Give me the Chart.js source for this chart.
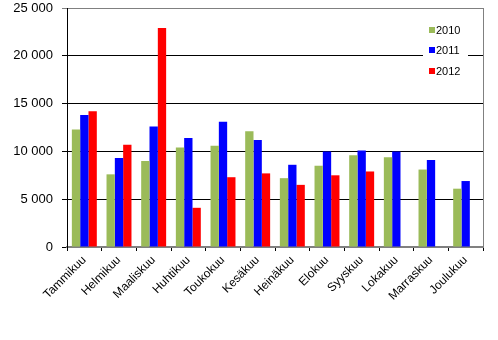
<!DOCTYPE html>
<html>
<head>
<meta charset="utf-8">
<script src="https://cdn.jsdelivr.net/npm/chart.js@4.4.0/dist/chart.umd.min.js"></script>
<style>
  html, body { margin: 0; padding: 0; background: #fff; }
</style>
</head>
<body>
<canvas id="chart" width="498" height="340"></canvas>
<script>
const months = ["Tammikuu", "Helmikuu", "Maaliskuu", "Huhtikuu", "Toukokuu", "Kesäkuu",
                "Heinäkuu", "Elokuu", "Syyskuu", "Lokakuu", "Marraskuu", "Joulukuu"];
const years = ["2010", "2011", "2012"];
const values2010 = [12300, 7600, 9000, 10400, 10600, 12100, 7200, 8500, 9600, 9400, 8100, 6100];
const values2011 = [13800, 9300, 12600, 11400, 13100, 11200, 8600, 10000, 10100, 10000, 9100, 6900];
const values2012 = [14200, 10700, 22900, 4100, 7300, 7700, 6500, 7500, 7900, null, null, null];
const yTicks = [0, 5000, 10000, 15000, 20000, 25000];
const colors = ["#9bbb59", "#0000ff", "#ff0000"];

const FONT = "'Liberation Sans', Arial, sans-serif";

// frame on top/right + legend box drawn inside the plot area
const frameAndLegend = {
    id: "frameAndLegend",
    afterDraw(chart) {
        const ctx = chart.ctx;
        const a = chart.chartArea;
        ctx.save();
        ctx.strokeStyle = "#808080";
        ctx.lineWidth = 1;
        ctx.beginPath();
        ctx.moveTo(a.right + 0.5, a.top);
        ctx.lineTo(a.right + 0.5, a.bottom);
        ctx.stroke();

        const x0 = a.right - 60;
        ctx.fillStyle = "#fff";
        ctx.fillRect(x0, a.top + 10, 45, 66);
        ctx.font = "11px " + FONT;
        ctx.textBaseline = "middle";
        const rows = [22, 42, 63];
        chart.data.datasets.forEach(function (ds, i) {
            const y = a.top + rows[i];
            ctx.fillStyle = ds.backgroundColor;
            ctx.fillRect(x0 + 6, y - 3, 6, 6);
            ctx.fillStyle = "#000";
            ctx.fillText(ds.label, x0 + 13, y + 0.5);
        });
        ctx.restore();
    }
};

const seriesValues = [values2010, values2011, values2012];

new Chart(document.getElementById("chart").getContext("2d"), {
    type: "bar",
    data: {
        labels: months,
        datasets: years.map(function (y, i) {
            return {
                label: y,
                data: seriesValues[i],
                backgroundColor: colors[i],
                borderWidth: 0,
                categoryPercentage: 0.72,
                barPercentage: 1.0
            };
        })
    },
    options: {
        responsive: false,
        animation: false,
        layout: { padding: { top: 8, right: 15, left: 0, bottom: 0 } },
        scales: {
            x: {
                afterFit: function (axis) { axis.height = 93; },
                grid: {
                    offset: true,
                    drawOnChartArea: false,
                    drawTicks: true,
                    tickLength: 4,
                    color: "#000"
                },
                border: { color: "#808080", width: 2 },
                ticks: {
                    autoSkip: false,
                    maxRotation: 45,
                    minRotation: 45,
                    padding: 2,
                    color: "#000",
                    font: { family: FONT, size: 12 }
                }
            },
            y: {
                min: 0,
                max: 25000,
                afterFit: function (axis) {
                    axis.width = 67;
                    axis.paddingTop = 0;
                    axis.paddingBottom = 0;
                },
                afterBuildTicks: function (axis) {
                    axis.ticks = yTicks.map(function (v) { return { value: v }; });
                },
                grid: {
                    tickLength: 5,
                    color: function (c) {
                        if (c.tick && c.tick.value === 25000) return "#808080";
                        return "#000";
                    }
                },
                border: { color: "#000", width: 1 },
                ticks: {
                    padding: 9,
                    color: "#000",
                    font: { family: FONT, size: 13 },
                    callback: function (v) {
                        return String(v).replace(/\B(?=(\d{3})+(?!\d))/g, " ");
                    }
                }
            }
        },
        plugins: {
            legend: { display: false },
            tooltip: { enabled: false }
        }
    },
    plugins: [frameAndLegend]
});
</script>
</body>
</html>
